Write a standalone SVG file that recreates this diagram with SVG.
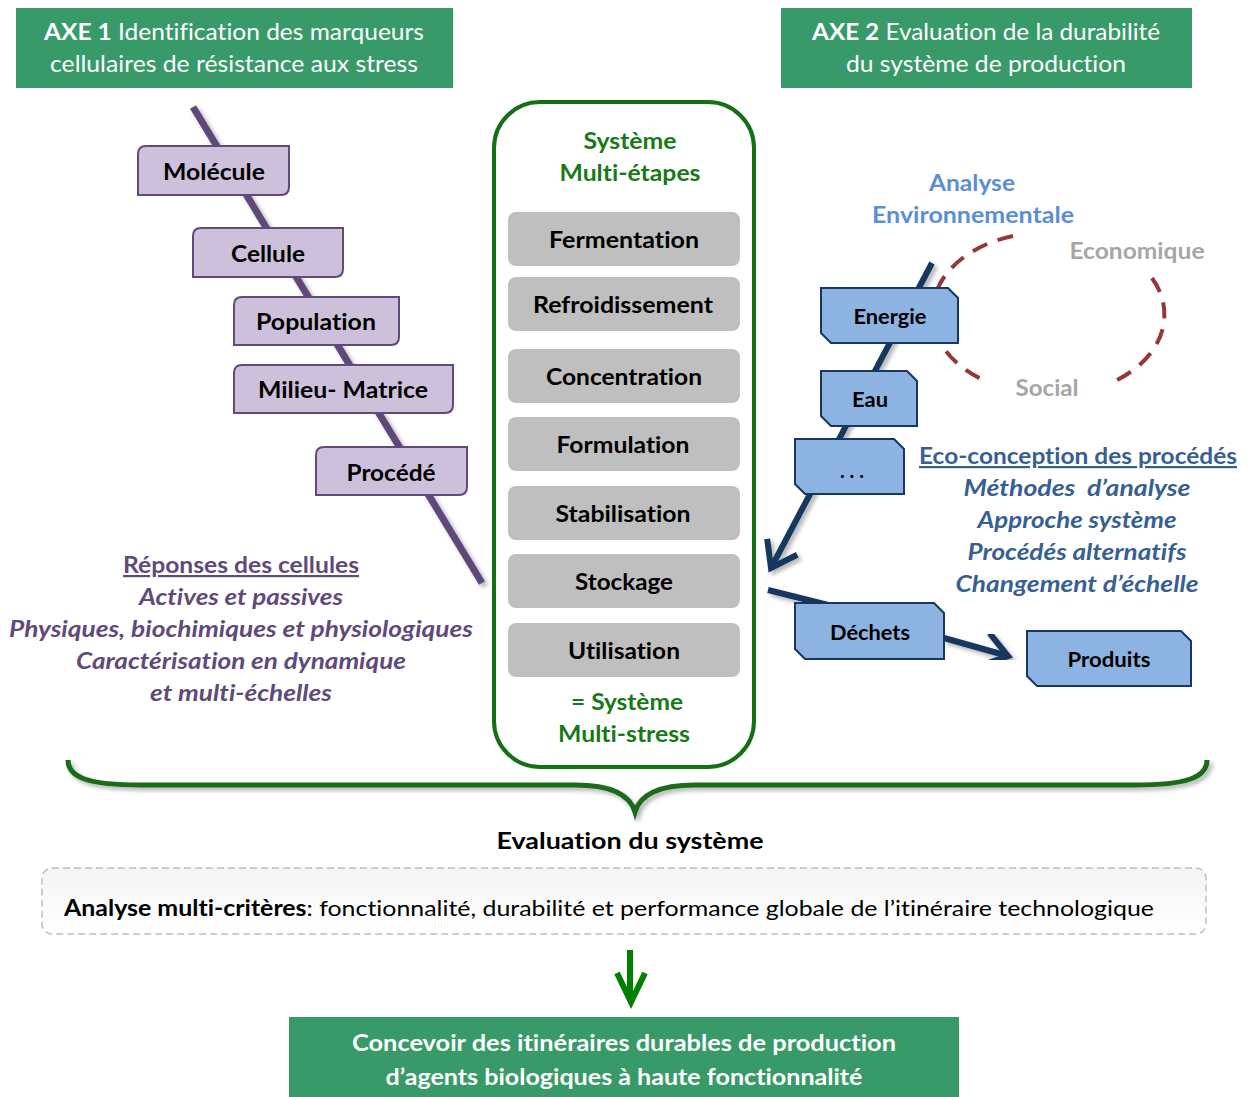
<svg xmlns="http://www.w3.org/2000/svg" width="1248" height="1097" viewBox="0 0 1248 1097">
<defs>
<style>
text{font-family:Lato,"Open Sans","Liberation Sans",sans-serif;font-variant-ligatures:none;font-feature-settings:"liga" 0,"clig" 0;}
.hdr{fill:#379A68;}
.ht{fill:#fff;font-size:23px;text-anchor:middle;}
.b{font-weight:bold;}
.pbox{fill:#CCC0DA;stroke:#604A7B;stroke-width:2;}
.pt{fill:#000;font-size:23px;font-weight:bold;text-anchor:middle;}
.gbox{fill:#BFBFBF;}
.gt{fill:#000;font-size:22px;font-weight:bold;text-anchor:middle;}
.grn{fill:#177A17;font-size:22px;font-weight:bold;text-anchor:middle;}
.bbox{fill:#8DB3E2;stroke:#17375E;stroke-width:2;}
.bt{fill:#000;font-size:20px;font-weight:bold;text-anchor:middle;}
.purp{fill:#604A7B;font-size:22px;font-weight:bold;font-style:italic;text-anchor:middle;}
.blu{fill:#376092;font-size:22px;font-weight:bold;font-style:italic;text-anchor:middle;}
.lb{fill:#5A8FD6;font-size:22px;font-weight:bold;text-anchor:middle;}
.gr{fill:#A6A6A6;font-size:22px;font-weight:bold;text-anchor:middle;}
</style>
<filter id="sh" x="-20%" y="-20%" width="140%" height="140%">
<feDropShadow dx="3" dy="3" stdDeviation="2" flood-color="#000" flood-opacity="0.3"/>
</filter>
<marker id="chevB" markerUnits="userSpaceOnUse" markerWidth="40" markerHeight="40" refX="30" refY="20" orient="auto" viewBox="0 0 40 40">
<path d="M6,3 L30,20 L6,37" fill="none" stroke="#17375E" stroke-width="6" stroke-linejoin="miter"/>
</marker>
<linearGradient id="gbg" x1="0" y1="0" x2="0" y2="1">
<stop offset="0" stop-color="#F4F4F4"/><stop offset="1" stop-color="#FFFFFF"/>
</linearGradient>
</defs>
<rect width="1248" height="1097" fill="#fff"/>

<g id="axe1">
<rect class="hdr" x="16" y="8" width="437" height="80"/>
<text class="ht" x="234" y="40" textLength="380" lengthAdjust="spacingAndGlyphs"><tspan class="b">AXE 1</tspan> Identification des marqueurs</text>
<text class="ht" x="234" y="72" textLength="368" lengthAdjust="spacingAndGlyphs">cellulaires de résistance aux stress</text>
</g>
<g id="axe2">
<rect class="hdr" x="781" y="8" width="411" height="80"/>
<text class="ht" x="986" y="40" textLength="348" lengthAdjust="spacingAndGlyphs"><tspan class="b">AXE 2</tspan> Evaluation de la durabilité</text>
<text class="ht" x="986" y="72" textLength="280" lengthAdjust="spacingAndGlyphs">du système de production</text>
</g>

<g id="connectors">
<line x1="193" y1="107" x2="482" y2="583" stroke="#5F497A" stroke-width="7" filter="url(#sh)"/>
<line x1="932" y1="263" x2="771" y2="568" stroke="#17375E" stroke-width="6" filter="url(#sh)" marker-end="url(#chevB)"/>
<line x1="768" y1="590" x2="832" y2="606" stroke="#17375E" stroke-width="6" filter="url(#sh)"/>
<line x1="944" y1="638" x2="1008" y2="656" stroke="#17375E" stroke-width="6" filter="url(#sh)" marker-end="url(#chevB)"/>
<path d="M1013,236 A112 80 0 0 0 988,382" fill="none" stroke="#953735" stroke-width="4" stroke-dasharray="16,11"/>
<path d="M1152,278 A112 80 0 0 1 1117,380" fill="none" stroke="#953735" stroke-width="4" stroke-dasharray="16,11"/>
<path d="M68,760 C68,778 90,785 140,785 L575,785 C612,785 630,795 635,812 C640,795 658,785 695,785 L1135,785 C1185,785 1207,778 1207,760" fill="none" stroke="#1A6B1A" stroke-width="5" filter="url(#sh)"/>
<line x1="630" y1="950" x2="630" y2="998" stroke="#008000" stroke-width="6"/>
<path d="M617,973 L631,1002 L645,973" fill="none" stroke="#008000" stroke-width="6"/>
</g>

<g id="molecule"><path class="pbox" d="M146,146 H289 V187 Q289,195 281,195 H138 V154 Q138,146 146,146 Z"/><text class="pt" x="214" y="180" textLength="102" lengthAdjust="spacingAndGlyphs">Molécule</text></g>
<g id="cellule"><path class="pbox" d="M201,228 H343 V269 Q343,277 335,277 H193 V236 Q193,228 201,228 Z"/><text class="pt" x="268" y="262" textLength="74" lengthAdjust="spacingAndGlyphs">Cellule</text></g>
<g id="population"><path class="pbox" d="M242,297 H399 V337 Q399,345 391,345 H234 V305 Q234,297 242,297 Z"/><text class="pt" x="316" y="330" textLength="120" lengthAdjust="spacingAndGlyphs">Population</text></g>
<g id="milieu"><path class="pbox" d="M242,365 H453 V405 Q453,413 445,413 H234 V373 Q234,365 242,365 Z"/><text class="pt" x="343" y="398" textLength="170" lengthAdjust="spacingAndGlyphs">Milieu- Matrice</text></g>
<g id="procede"><path class="pbox" d="M324,447 H467 V487 Q467,495 459,495 H316 V455 Q316,447 324,447 Z"/><text class="pt" x="391" y="481" textLength="89" lengthAdjust="spacingAndGlyphs">Procédé</text></g>

<g id="reponses">
<text class="purp" x="241" y="573" text-decoration="underline" textLength="236" lengthAdjust="spacingAndGlyphs" style="font-style:normal">Réponses des cellules</text>
<text class="purp" x="241" y="605" textLength="204" lengthAdjust="spacingAndGlyphs">Actives et passives</text>
<text class="purp" x="241" y="637" textLength="464" lengthAdjust="spacingAndGlyphs">Physiques, biochimiques et physiologiques</text>
<text class="purp" x="241" y="669" textLength="330" lengthAdjust="spacingAndGlyphs">Caractérisation en dynamique</text>
<text class="purp" x="241" y="701" textLength="182" lengthAdjust="spacingAndGlyphs">et multi-échelles</text>
</g>

<g id="systeme">
<rect x="494" y="102" width="260" height="665" rx="46" fill="#fff" stroke="#137113" stroke-width="4"/>
<text class="grn" x="630" y="149" textLength="93" lengthAdjust="spacingAndGlyphs">Système</text>
<text class="grn" x="630" y="181" textLength="141" lengthAdjust="spacingAndGlyphs">Multi-étapes</text>
<text class="grn" x="627" y="710" textLength="112" lengthAdjust="spacingAndGlyphs">= Système</text>
<text class="grn" x="624" y="742" textLength="132" lengthAdjust="spacingAndGlyphs">Multi-stress</text>
</g>
<g id="fermentation"><rect class="gbox" x="508" y="212" width="232" height="54" rx="8"/><text class="gt" x="624" y="248" textLength="150" lengthAdjust="spacingAndGlyphs">Fermentation</text></g>
<g id="refroidissement"><rect class="gbox" x="508" y="277" width="232" height="54" rx="8"/><text class="gt" x="623" y="313" textLength="180" lengthAdjust="spacingAndGlyphs">Refroidissement</text></g>
<g id="concentration"><rect class="gbox" x="508" y="349" width="232" height="54" rx="8"/><text class="gt" x="624" y="385" textLength="156" lengthAdjust="spacingAndGlyphs">Concentration</text></g>
<g id="formulation"><rect class="gbox" x="508" y="417" width="232" height="54" rx="8"/><text class="gt" x="623" y="453" textLength="133" lengthAdjust="spacingAndGlyphs">Formulation</text></g>
<g id="stabilisation"><rect class="gbox" x="508" y="486" width="232" height="54" rx="8"/><text class="gt" x="623" y="522" textLength="135" lengthAdjust="spacingAndGlyphs">Stabilisation</text></g>
<g id="stockage"><rect class="gbox" x="508" y="554" width="232" height="54" rx="8"/><text class="gt" x="624" y="590" textLength="98" lengthAdjust="spacingAndGlyphs">Stockage</text></g>
<g id="utilisation"><rect class="gbox" x="508" y="623" width="232" height="54" rx="8"/><text class="gt" x="624" y="659" textLength="112" lengthAdjust="spacingAndGlyphs">Utilisation</text></g>

<g id="durabilite">
<text class="lb" x="972" y="191" textLength="86" lengthAdjust="spacingAndGlyphs">Analyse</text>
<text class="lb" x="973" y="223" textLength="202" lengthAdjust="spacingAndGlyphs">Environnementale</text>
<text class="gr" x="1137" y="259" textLength="135" lengthAdjust="spacingAndGlyphs">Economique</text>
<text class="gr" x="1047" y="396" textLength="63" lengthAdjust="spacingAndGlyphs">Social</text>
</g>

<g id="energie"><path class="bbox" d="M821,288 H948 L958,298 V343 H831 L821,333 Z"/><text class="bt" x="890" y="324" textLength="73" lengthAdjust="spacingAndGlyphs">Energie</text></g>
<g id="eau"><path class="bbox" d="M821,371 H907 L917,381 V426 H831 L821,416 Z"/><text class="bt" x="870" y="407" textLength="36" lengthAdjust="spacingAndGlyphs">Eau</text></g>
<g id="etc"><path class="bbox" d="M795,439 H894 L904,449 V494 H805 L795,484 Z"/><text class="bt" x="852" y="478" font-size="22">. . .</text></g>
<g id="dechets"><path class="bbox" d="M795,603 H934 L944,613 V659 H805 L795,649 Z"/><text class="bt" x="870" y="640" textLength="80" lengthAdjust="spacingAndGlyphs">Déchets</text></g>
<g id="produits"><path class="bbox" d="M1027,631 H1181 L1191,641 V686 H1037 L1027,676 Z"/><text class="bt" x="1109" y="667" textLength="83" lengthAdjust="spacingAndGlyphs">Produits</text></g>

<g id="ecoconception">
<text class="blu" x="1078" y="464" text-decoration="underline" textLength="318" lengthAdjust="spacingAndGlyphs" style="font-style:normal">Eco-conception des procédés</text>
<text class="blu" x="1077" y="496" textLength="227" lengthAdjust="spacingAndGlyphs" xml:space="preserve">Méthodes  d’analyse</text>
<text class="blu" x="1077" y="528" textLength="199" lengthAdjust="spacingAndGlyphs">Approche système</text>
<text class="blu" x="1077" y="560" textLength="219" lengthAdjust="spacingAndGlyphs">Procédés alternatifs</text>
<text class="blu" x="1077" y="592" textLength="243" lengthAdjust="spacingAndGlyphs">Changement d’échelle</text>
</g>

<g id="evaluation">
<text x="630" y="849" font-size="23" font-weight="bold" fill="#000" text-anchor="middle" textLength="267" lengthAdjust="spacingAndGlyphs">Evaluation du système</text>
</g>
<g id="analyse">
<rect x="42" y="868" width="1164" height="66" rx="10" fill="url(#gbg)" stroke="#BFBFBF" stroke-width="1.5" stroke-dasharray="7,4"/>
<text x="64" y="916" font-size="22" fill="#000" textLength="1090" lengthAdjust="spacingAndGlyphs"><tspan font-weight="bold">Analyse multi-critères</tspan>: fonctionnalité, durabilité et performance globale de l’itinéraire technologique</text>
</g>
<g id="concevoir">
<rect class="hdr" x="289" y="1017" width="670" height="80"/>
<text class="ht b" x="624" y="1051" textLength="544" lengthAdjust="spacingAndGlyphs">Concevoir des itinéraires durables de production</text>
<text class="ht b" x="624" y="1085" textLength="477" lengthAdjust="spacingAndGlyphs">d’agents biologiques à haute fonctionnalité</text>
</g>
</svg>
